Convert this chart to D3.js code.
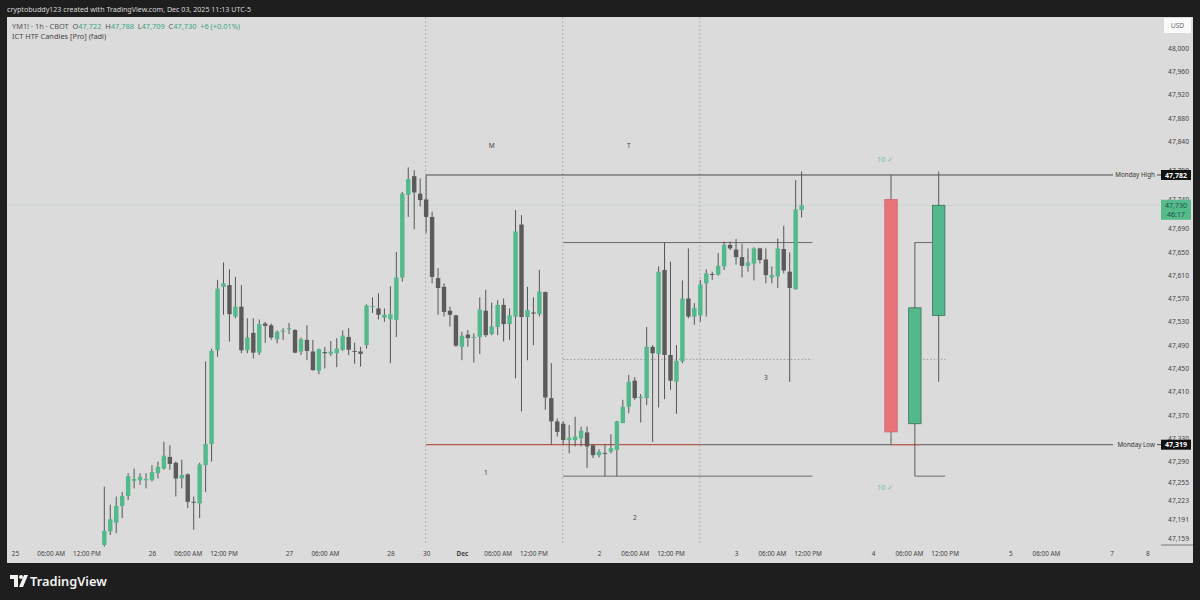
<!DOCTYPE html>
<html><head><meta charset="utf-8">
<script src="https://cdn.jsdelivr.net/npm/d3@7"></script>
<style>html,body{margin:0;padding:0;background:#1e1e1e;}svg{display:block;font-family:"Noto Sans","DejaVu Sans",sans-serif;}</style>
</head><body>
<svg id="c" width="1200" height="600"></svg>
<script>
// ---------------- DATA ----------------
// hourly candles (bar 0 = Nov 25 15:00 ... bar 117 = Dec 3 11:00)
const opens  = [47147,47170,47185,47214,47231,47257,47258,47258,47258,47270,47278,47298,47288,47261,47268,47221,47218,47284,47320,47481,47590,47593,47539,47556,47481,47511,47477,47527,47524,47500,47513,47518,47516,47479,47499,47479,47446,47478,47475,47476,47482,47504,47480,47479,47490,47556,47553,47537,47534,47533,47606,47748,47780,47750,47740,47710,47605,47590,47549,47541,47487,47508,47503,47504,47549,47509,47521,47559,47526,47539,47697,47538,47546,47543,47581,47399,47359,47355,47327,47327,47330,47340,47318,47301,47305,47307,47310,47356,47384,47429,47399,47399,47487,47475,47619,47473,47427,47462,47570,47539,47541,47596,47612,47611,47625,47662,47654,47641,47626,47630,47656,47637,47606,47608,47655,47616,47586,47722];
const highs  = [47247,47216,47230,47238,47270,47278,47270,47270,47284,47290,47324,47318,47290,47293,47270,47230,47288,47462,47484,47602,47632,47620,47607,47593,47536,47536,47534,47530,47527,47515,47519,47528,47517,47503,47524,47499,47484,47487,47497,47502,47515,47519,47494,47487,47560,47572,47579,47553,47591,47650,47753,47795,47790,47776,47782,47719,47622,47596,47556,47542,47513,47516,47510,47572,47585,47563,47567,47570,47553,47722,47713,47590,47572,47619,47582,47459,47364,47359,47353,47367,47350,47350,47320,47311,47320,47337,47360,47396,47439,47435,47406,47521,47490,47625,47666,47633,47490,47601,47656,47562,47602,47620,47616,47648,47668,47668,47672,47664,47656,47658,47657,47656,47625,47673,47695,47649,47773,47788];
const lows   = [47144,47164,47167,47193,47224,47244,47250,47244,47256,47261,47276,47276,47230,47244,47210,47173,47193,47238,47290,47470,47542,47496,47536,47476,47476,47467,47473,47494,47499,47493,47499,47509,47476,47473,47464,47446,47440,47450,47471,47452,47480,47473,47458,47453,47484,47545,47534,47530,47459,47504,47599,47710,47689,47728,47682,47596,47542,47539,47522,47487,47464,47487,47460,47475,47504,47507,47507,47496,47499,47433,47376,47464,47490,47539,47379,47319,47333,47320,47304,47316,47316,47279,47296,47297,47265,47304,47265,47356,47373,47396,47357,47387,47324,47383,47397,47413,47372,47459,47536,47525,47530,47539,47602,47609,47619,47653,47628,47606,47616,47601,47630,47596,47596,47588,47613,47427,47585,47709];
const closes = [47171,47191,47214,47231,47265,47260,47264,47260,47272,47281,47300,47286,47261,47267,47221,47220,47285,47320,47480,47587,47596,47543,47556,47481,47503,47477,47526,47523,47503,47513,47515,47519,47477,47500,47480,47447,47483,47476,47479,47484,47506,47482,47479,47475,47558,47557,47542,47542,47543,47606,47750,47775,47752,47739,47710,47607,47588,47547,47542,47489,47506,47502,47504,47551,47507,47522,47559,47526,47541,47685,47538,47550,47544,47582,47400,47359,47341,47327,47331,47333,47343,47316,47301,47307,47304,47313,47359,47384,47427,47399,47401,47487,47476,47616,47473,47429,47463,47570,47539,47554,47594,47613,47611,47626,47662,47656,47641,47626,47632,47656,47636,47610,47610,47656,47618,47588,47723,47730];

// HTF (daily) candles: Mon, Tue, Wed — bar position on the hourly axis
const htfBar   = [132, 136, 140];
const htfOpen  = [47740, 47355, 47541];
const htfHigh  = [47782, 47666, 47788];
const htfLow   = [47319, 47265, 47427];
const htfClose = [47341, 47554, 47730];

// session levels
const mondayHigh = 47782, mondayLow = 47319;
const tuesdayHigh = 47666, tuesdayLow = 47265;
const sessionStartBars = [54, 77, 100];
const lastPrice = 47730;

// axes
const priceTicks = [48000,47960,47920,47880,47840,47790,47740,47690,47650,47610,47570,47530,47490,47450,47410,47370,47330,47290,47255,47223,47191,47159];
const timeTickBars   = [-15,-9,-3,8,14,20,31,37,48,54,60,66,72,83,89,95,106,112,118,129,135,141,152,158,169,175];
const timeTickLabels = ["25","06:00 AM","12:00 PM","26","06:00 AM","12:00 PM","27","06:00 AM","28","30","Dec","06:00 AM","12:00 PM","2","06:00 AM","12:00 PM","3","06:00 AM","12:00 PM","4","06:00 AM","12:00 PM","5","06:00 AM","7","8"];

// ---------------- DRAW ----------------
const svg = d3.select("#c");
const x = d3.scaleLinear().domain([-15, 175]).range([14.9, 1147.3]);
const y = d3.scaleLinear().domain([47159, 48000]).range([537.9, 48]);

const GREEN = "#53b88c", DARK = "#5b5b5b", WICK = "#555", RED = "#e9737a";
const FF = "Noto Sans, DejaVu Sans, sans-serif";

svg.append("rect").attr("width",1200).attr("height",600).attr("fill","#1e1e1e");
svg.append("text").attr("x",7).attr("y",11.5).attr("fill","#d8d8d8").attr("font-size",7.1)
  .text("cryptobuddy123 created with TradingView.com, Dec 03, 2025 11:13 UTC-5");
svg.append("rect").attr("x",7).attr("y",17).attr("width",1186).attr("height",546).attr("fill","#dbdbdb");

// session separators
svg.append("g").selectAll("line").data(sessionStartBars).join("line")
  .attr("x1",d=>x(d)-0.5).attr("x2",d=>x(d)-0.5).attr("y1",17).attr("y2",545)
  .attr("stroke","#b3b3b3").attr("stroke-dasharray","2,2");

// current price line
svg.append("line").attr("x1",7).attr("x2",1161).attr("y1",y(lastPrice)).attr("y2",y(lastPrice))
  .attr("stroke","#a9cfc2").attr("stroke-width",0.8).attr("stroke-dasharray","1,1");

// Tuesday range box lines
const tStart = x(77), tEnd = x(118.8);
svg.append("line").attr("x1",tStart).attr("x2",tEnd).attr("y1",y(tuesdayHigh)).attr("y2",y(tuesdayHigh)).attr("stroke","#6a6a6a").attr("stroke-width",1);
svg.append("line").attr("x1",tStart).attr("x2",tEnd).attr("y1",y(tuesdayLow)).attr("y2",y(tuesdayLow)).attr("stroke","#6a6a6a").attr("stroke-width",1);
svg.append("line").attr("x1",tStart).attr("x2",tEnd).attr("y1",y((tuesdayHigh+tuesdayLow)/2)).attr("y2",y((tuesdayHigh+tuesdayLow)/2)).attr("stroke","#9a9a9a").attr("stroke-dasharray","1.5,2");

// Monday high / low
const mStart = x(54), lineEnd = 1113;
svg.append("line").attr("x1",mStart).attr("x2",lineEnd).attr("y1",y(mondayHigh)).attr("y2",y(mondayHigh)).attr("stroke","#4a4a4a").attr("stroke-width",1);
svg.append("line").attr("x1",x(100)).attr("x2",lineEnd).attr("y1",y(mondayLow)).attr("y2",y(mondayLow)).attr("stroke","#5a5a5a").attr("stroke-width",1);
svg.append("line").attr("x1",mStart).attr("x2",x(100)).attr("y1",y(mondayLow)).attr("y2",y(mondayLow)).attr("stroke","#b0584c").attr("stroke-width",1.2);
svg.append("line").attr("x1",x(132)).attr("x2",x(136.9)).attr("y1",y(mondayLow)).attr("y2",y(mondayLow)).attr("stroke","#c0665c").attr("stroke-width",1.2);

// hourly candles
const bars = d3.range(opens.length);
const cg = svg.append("g");
cg.selectAll("line.w").data(bars).join("line").attr("class","w")
  .attr("x1",i=>x(i)).attr("x2",i=>x(i)).attr("y1",i=>y(highs[i])).attr("y2",i=>y(lows[i]))
  .attr("stroke",WICK).attr("stroke-width",1);
cg.selectAll("rect").data(bars).join("rect")
  .attr("x",i=>x(i)-2.2).attr("width",4.4)
  .attr("y",i=>y(Math.max(opens[i],closes[i])))
  .attr("height",i=>Math.max(1,Math.abs(y(opens[i])-y(closes[i]))))
  .attr("fill",i=>closes[i]>=opens[i]?GREEN:DARK);

// HTF candles
const hg = svg.append("g");
const htf = d3.range(htfBar.length);
hg.selectAll("line").data(htf).join("line")
  .attr("x1",i=>x(htfBar[i])).attr("x2",i=>x(htfBar[i])).attr("y1",i=>y(htfHigh[i])).attr("y2",i=>y(htfLow[i]))
  .attr("stroke","#5a5a5a").attr("stroke-width",1);
hg.append("line").attr("x1",x(136)).attr("x2",x(139)).attr("y1",y(tuesdayHigh)).attr("y2",y(tuesdayHigh)).attr("stroke","#6a6a6a");
hg.append("line").attr("x1",x(136)).attr("x2",x(141.1)).attr("y1",y(tuesdayLow)).attr("y2",y(tuesdayLow)).attr("stroke","#6a6a6a");
hg.append("line").attr("x1",x(137.4)).attr("x2",x(141.1)).attr("y1",y((tuesdayHigh+tuesdayLow)/2)).attr("y2",y((tuesdayHigh+tuesdayLow)/2)).attr("stroke","#9a9a9a").attr("stroke-dasharray","1.5,2");
hg.selectAll("rect").data(htf).join("rect")
  .attr("x",i=>x(htfBar[i])-6.2).attr("width",12.4)
  .attr("y",i=>y(Math.max(htfOpen[i],htfClose[i])))
  .attr("height",i=>Math.abs(y(htfOpen[i])-y(htfClose[i])))
  .attr("fill",i=>htfClose[i]>=htfOpen[i]?GREEN:RED)
  .attr("stroke",i=>htfClose[i]>=htfOpen[i]?"#3f6f5a":"#c9646b").attr("stroke-width",0.8);

// small annotation texts
const ann = [["M",65,148],["T",88,148],["1",64,475],["2",89,520],["3",111,380]];
svg.append("g").selectAll("text").data(ann).join("text")
  .attr("x",d=>x(d[1])).attr("y",d=>d[2]).attr("text-anchor","middle")
  .attr("font-size",6.5).attr("fill","#444").text(d=>d[0]);
svg.append("text").attr("x",x(131)).attr("y",162).attr("text-anchor","middle").attr("font-size",7).attr("fill","#6dbba4").text("10 ✓");
svg.append("text").attr("x",x(131)).attr("y",490).attr("text-anchor","middle").attr("font-size",7).attr("fill","#6dbba4").text("10 ✓");

// legend header
const hdr = svg.append("text").attr("x",12).attr("y",28.5).attr("font-size",7.4).attr("fill","#555").attr("xml:space","preserve");
hdr.append("tspan").text("YM1! · 1h · CBOT  ");
[["O","47,722"],["H","47,788"],["L","47,709"],["C","47,730"]].forEach(p=>{
  hdr.append("tspan").attr("fill","#555").text(p[0]);
  hdr.append("tspan").attr("fill","#3ea57f").text(p[1]+"  ");
});
hdr.append("tspan").attr("fill","#3ea57f").text("+6 (+0.01%)");
svg.append("text").attr("x",12).attr("y",38.5).attr("font-size",7.4).attr("fill","#444").text("ICT HTF Candles [Pro] (fadi)");

// price axis
const ya = svg.append("g").attr("transform","translate(1189,0)")
  .call(d3.axisRight(y).tickValues(priceTicks).tickSize(0).tickFormat(d3.format(",")));
ya.select(".domain").remove();
ya.selectAll("text").attr("x",0).attr("text-anchor","end").attr("font-size",6.7).attr("fill","#444")
  .attr("font-family",FF);
svg.append("line").attr("x1",1161).attr("x2",1193).attr("y1",545).attr("y2",545).attr("stroke","#777");
svg.append("rect").attr("x",1164).attr("y",18).attr("width",27).attr("height",15).attr("fill","#fafafa");
svg.append("text").attr("x",1177.5).attr("y",28).attr("text-anchor","middle").attr("font-size",6.5).attr("fill","#666").text("USD");

// time axis
const xa = svg.append("g").attr("transform","translate(0,550)")
  .call(d3.axisBottom(x).tickValues(timeTickBars).tickSize(0).tickFormat((d,i)=>timeTickLabels[i]));
xa.select(".domain").remove();
xa.selectAll("text").attr("font-size",6.4).attr("fill","#444").attr("dy","0.35em").attr("y",4)
  .attr("font-family",FF)
  .attr("font-weight",(d,i)=>timeTickLabels[i]==="Dec"?"bold":"normal");

// level labels & tags
function levelTag(price, label){
  const yy = y(price);
  svg.append("text").attr("x",1155).attr("y",yy+2.3).attr("text-anchor","end").attr("font-size",6.3).attr("fill","#333").text(label);
  svg.append("line").attr("x1",1157).attr("x2",1161).attr("y1",yy).attr("y2",yy).attr("stroke","#4a4a4a");
  svg.append("rect").attr("x",1161).attr("y",yy-5).attr("width",30).attr("height",10).attr("fill","#111");
  svg.append("text").attr("x",1176).attr("y",yy+2.6).attr("text-anchor","middle").attr("font-size",7).attr("font-weight","bold").attr("fill","#fff").text(d3.format(",")(price));
}
levelTag(mondayHigh,"Monday High");
levelTag(mondayLow,"Monday Low");
const ly = y(lastPrice);
svg.append("rect").attr("x",1161).attr("y",ly-5.5).attr("width",30).attr("height",20).attr("fill","#55bb8d");
svg.append("text").attr("x",1176).attr("y",ly+2.3).attr("text-anchor","middle").attr("font-size",7).attr("fill","#1d4f3c").text(d3.format(",")(lastPrice));
svg.append("text").attr("x",1176).attr("y",ly+11.3).attr("text-anchor","middle").attr("font-size",7).attr("fill","#1d4f3c").text("46:17");

// TradingView logo
const lg = svg.append("g").attr("fill","#f2f2f2");
lg.append("path").attr("d","M10,575 H18 V587 H14 V579 H10 Z");
lg.append("circle").attr("cx",21).attr("cy",577).attr("r",2);
lg.append("path").attr("d","M24,575 H28 L23,587 H19 Z");
svg.append("text").attr("x",30).attr("y",585.5).attr("font-size",12.8).attr("font-weight",600).attr("fill","#f2f2f2").text("TradingView");
</script>
</body></html>
